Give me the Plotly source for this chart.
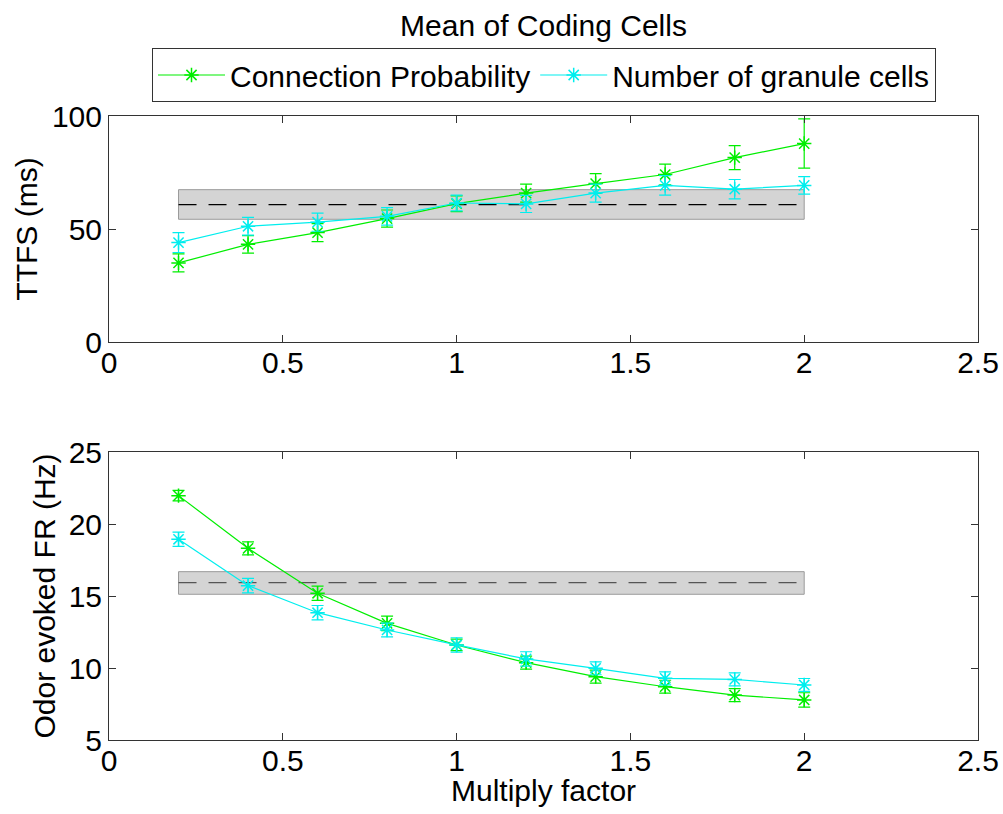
import plotly.graph_objects as go

# ---------------- data ----------------
multiply_factor = [0.2, 0.4, 0.6, 0.8, 1.0, 1.2, 1.4, 1.6, 1.8, 2.0]

ttfs_conn = [35.0, 43.2, 48.4, 54.6, 61.2, 65.9, 70.1, 74.1, 81.6, 87.8]
ttfs_conn_err = [4.0, 3.9, 4.0, 3.8, 3.5, 4.0, 4.4, 4.6, 5.3, 10.9]
ttfs_gran = [44.0, 51.2, 53.0, 55.6, 61.5, 61.1, 65.9, 69.3, 67.6, 69.3]
ttfs_gran_err = [4.4, 3.9, 4.0, 3.9, 3.5, 3.8, 4.0, 4.3, 4.3, 3.9]

fr_conn = [21.97, 18.31, 15.19, 13.10, 11.60, 10.37, 9.40, 8.70, 8.12, 7.78]
fr_conn_err = [0.36, 0.45, 0.50, 0.50, 0.40, 0.45, 0.45, 0.45, 0.45, 0.50]
fr_gran = [18.94, 15.72, 13.84, 12.64, 11.60, 10.63, 9.98, 9.28, 9.21, 8.82]
fr_gran_err = [0.50, 0.50, 0.50, 0.48, 0.50, 0.50, 0.45, 0.45, 0.45, 0.45]

band_x = [0.2, 2.0]
ttfs_ref = [54.3, 60.8, 67.4]   # low, mean, high
fr_ref = [15.12, 15.93, 16.69]  # low, mean, high

series_names = ["Connection Probability", "Number of granule cells"]
x_ticks = [0, 0.5, 1, 1.5, 2, 2.5]
x_tick_text = ["0", "0.5", "1", "1.5", "2", "2.5"]

# ---------------- style ----------------
GREEN = "#00ee00"
CYAN = "#00eeee"
FONT = "Liberation Sans, Arial, Helvetica, sans-serif"
FS = 30
W, H = 1003, 814

fig = go.Figure()


def add_panel(xa, ya, ref, dash_color, s1, e1, s2, e2, legend):
    lo, mid, hi = ref
    fig.add_trace(go.Scatter(
        x=[band_x[0], band_x[1], band_x[1], band_x[0], band_x[0]],
        y=[lo, lo, hi, hi, lo], fill="toself", fillcolor="#d4d4d4",
        line=dict(color="#9a9a9a", width=1), mode="lines",
        showlegend=False, hoverinfo="skip", xaxis=xa, yaxis=ya))
    fig.add_trace(go.Scatter(
        x=band_x, y=[mid, mid], mode="lines",
        line=dict(color=dash_color, width=1.3, dash="18px,12px"),
        showlegend=False, hoverinfo="skip", xaxis=xa, yaxis=ya))
    for vals, errs, col, name in [(s1, e1, GREEN, series_names[0]),
                                  (s2, e2, CYAN, series_names[1])]:
        fig.add_trace(go.Scatter(
            x=multiply_factor, y=vals, name=name, mode="lines+markers",
            line=dict(color=col, width=1.2),
            marker=dict(symbol="asterisk-open", size=12,
                        color=col, line=dict(color=col, width=1.5)),
            error_y=dict(type="data", array=errs, visible=True,
                         color=col, thickness=1.2, width=6),
            showlegend=legend, xaxis=xa, yaxis=ya))


add_panel("x", "y", ttfs_ref, "#000000", ttfs_conn, ttfs_conn_err,
          ttfs_gran, ttfs_gran_err, True)
add_panel("x2", "y2", fr_ref, "#555555", fr_conn, fr_conn_err,
          fr_gran, fr_gran_err, False)

x0, x1 = 109 / W, 978 / W
top_dom = [1 - 342 / H, 1 - 116 / H]
bot_dom = [1 - 740 / H, 1 - 452 / H]

axis_common = dict(showline=True, linecolor="#333333", linewidth=1,
                   mirror="ticks", ticks="inside", ticklen=7,
                   tickcolor="#333333", showgrid=False, zeroline=False,
                   automargin=False,
                   tickfont=dict(family=FONT, size=FS, color="black"))

fig.update_layout(
    width=W, height=H,
    margin=dict(l=0, r=0, t=0, b=0, autoexpand=False),
    paper_bgcolor="white", plot_bgcolor="white",
    font=dict(family=FONT, size=FS, color="black"),
    title=dict(text="Mean of Coding Cells", x=(109 + 978) / 2 / W,
               xanchor="center", y=1 - 25 / H, yanchor="middle",
               font=dict(family=FONT, size=FS, color="black")),
    legend=dict(orientation="h", x=152 / W, y=1 - 48 / H,
                xanchor="left", yanchor="top",
                bordercolor="#333333", borderwidth=1, bgcolor="white",
                font=dict(family=FONT, size=FS, color="black"),
                itemwidth=67, tracegroupgap=0),
    xaxis=dict(domain=[x0, x1], range=[0, 2.5], tickvals=x_ticks,
               ticktext=x_tick_text, anchor="y", ticklabelstandoff=-6,
               **axis_common),
    yaxis=dict(domain=top_dom, range=[0, 100], tickvals=[0, 50, 100],
               anchor="x", ticklabelstandoff=0,
               title=dict(text="TTFS (ms)", standoff=5,
                          font=dict(family=FONT, size=FS, color="black")),
               **axis_common),
    xaxis2=dict(domain=[x0, x1], range=[0, 2.5], tickvals=x_ticks,
                ticktext=x_tick_text, anchor="y2", ticklabelstandoff=-6,
                **axis_common),
    yaxis2=dict(domain=bot_dom, range=[5, 25], tickvals=[5, 10, 15, 20, 25],
                anchor="x2", ticklabelstandoff=0,
                title=dict(text="Odor evoked FR (Hz)", standoff=4,
                           font=dict(family=FONT, size=FS, color="black")),
                **axis_common),
    annotations=[dict(text="Multiply factor", xref="paper", yref="paper",
                      x=(109 + 978) / 2 / W, y=1 - 790 / H,
                      xanchor="center", yanchor="middle", showarrow=False,
                      font=dict(family=FONT, size=FS, color="black"))],
)

fig.write_html("out.html")
